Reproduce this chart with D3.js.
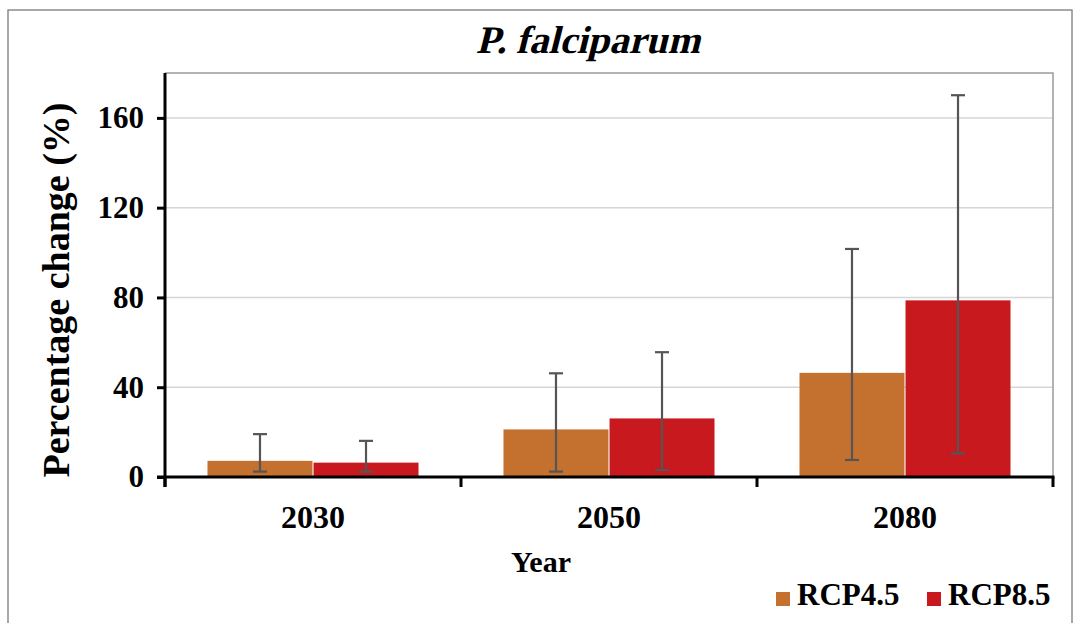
<!DOCTYPE html>
<html>
<head>
<meta charset="utf-8">
<script src="https://cdn.jsdelivr.net/npm/d3@7"></script>
<style>
  html, body { margin: 0; padding: 0; background: #fff; }
  svg { display: block; font-family: "Liberation Serif", "Times New Roman", serif; }
</style>
</head>
<body>
<svg id="chart" width="1074" height="623"></svg>
<script>
// Percentage change in P. falciparum by year and scenario
const years = ["2030", "2050", "2080"];
const scenarios = ["RCP4.5", "RCP8.5"];
const rcp45 = [7.2, 21.2, 46.4];
const rcp85 = [6.4, 26.1, 78.7];
const rcp45Low = [2.4, 2.4, 7.6];
const rcp45High = [19.1, 46.2, 101.6];
const rcp85Low = [2.4, 3.1, 10.5];
const rcp85High = [16.1, 55.6, 170.1];
const yTicks = [0, 40, 80, 120, 160];
const colors = ["#C4702F", "#C8191E"];

const rows = years.map((y, i) => ({
  year: y,
  bars: [
    { key: scenarios[0], value: rcp45[i], low: rcp45Low[i], high: rcp45High[i] },
    { key: scenarios[1], value: rcp85[i], low: rcp85Low[i], high: rcp85High[i] }
  ]
}));

const svg = d3.select("#chart");
const plot = { left: 165, right: 1053, top: 73, bottom: 477 };

// outer frame
svg.append("rect")
  .attr("x", 8).attr("y", 10).attr("width", 1064).attr("height", 640)
  .attr("fill", "#fff").attr("stroke", "#8c8c8c").attr("stroke-width", 1.5);

const x0 = d3.scaleBand().domain(years).range([plot.left, plot.right])
  .paddingInner(0.28).paddingOuter(0.14);
const x1 = d3.scaleBand().domain(scenarios).range([0, x0.bandwidth()]).padding(0.01);
const y = d3.scaleLinear().domain([0, 180]).range([plot.bottom, plot.top]);
const color = d3.scaleOrdinal().domain(scenarios).range(colors);

// gridlines
svg.append("g").selectAll("line").data(yTicks.filter(d => d > 0)).join("line")
  .attr("x1", plot.left).attr("x2", plot.right)
  .attr("y1", d => y(d)).attr("y2", d => y(d))
  .attr("stroke", "#d6d6d6").attr("stroke-width", 1.5);

// plot area border (top and right)
svg.append("path")
  .attr("d", `M${plot.left},${plot.top}H${plot.right}V${plot.bottom}`)
  .attr("fill", "none").attr("stroke", "#9a9a9a").attr("stroke-width", 1.5);

// bars
const groups = svg.append("g").selectAll("g").data(rows).join("g")
  .attr("transform", d => `translate(${x0(d.year)},0)`);

groups.selectAll("rect").data(d => d.bars).join("rect")
  .attr("x", d => x1(d.key))
  .attr("width", x1.bandwidth())
  .attr("y", d => y(d.value))
  .attr("height", d => y(0) - y(d.value))
  .attr("fill", d => color(d.key));

// error bars
const capW = 14;
const cx = d => x1(d.key) + x1.bandwidth() / 2;
const err = groups.selectAll("g.err").data(d => d.bars).join("g").attr("class", "err")
  .attr("stroke", "#555").attr("stroke-width", 2.2);
err.append("line")
  .attr("x1", cx).attr("x2", cx)
  .attr("y1", d => y(d.low)).attr("y2", d => y(d.high));
err.append("line")
  .attr("x1", d => cx(d) - capW / 2).attr("x2", d => cx(d) + capW / 2)
  .attr("y1", d => y(d.high)).attr("y2", d => y(d.high));
err.append("line")
  .attr("x1", d => cx(d) - capW / 2).attr("x2", d => cx(d) + capW / 2)
  .attr("y1", d => y(d.low)).attr("y2", d => y(d.low));

// y axis
const yAxis = svg.append("g").attr("transform", `translate(${plot.left},0)`)
  .call(d3.axisLeft(y).tickValues(yTicks).tickSize(8).tickPadding(13).tickSizeOuter(0));
yAxis.select(".domain").attr("stroke", "#000").attr("stroke-width", 3)
  .attr("d", `M0,${plot.top}V${plot.bottom + 10}`);
yAxis.selectAll(".tick line").attr("stroke", "#000").attr("stroke-width", 3);
yAxis.selectAll(".tick text").attr("fill", "#000").attr("font-size", 31)
  .attr("font-weight", "bold").attr("font-family", "Liberation Serif, serif");

// x axis with ticks on category boundaries
const xAxis = svg.append("g");
xAxis.append("line").attr("x1", plot.left - 8).attr("x2", plot.right + 1.5)
  .attr("y1", y(0)).attr("y2", y(0)).attr("stroke", "#000").attr("stroke-width", 3);
const edges = [plot.left].concat(years.map(d => x0(d) + x0.bandwidth() + (x0.step() - x0.bandwidth()) / 2));
xAxis.selectAll("line.tk").data(edges).join("line").attr("class", "tk")
  .attr("x1", d => d).attr("x2", d => d)
  .attr("y1", y(0)).attr("y2", y(0) + 10)
  .attr("stroke", "#000").attr("stroke-width", 3);
xAxis.selectAll("text").data(years).join("text")
  .attr("x", d => x0(d) + x0.bandwidth() / 2).attr("y", 528)
  .attr("text-anchor", "middle").attr("font-size", 32).attr("font-weight", "bold")
  .text(d => d);

// chart title, bold serif slanted into italics
svg.append("text").attr("transform", "translate(588,53) skewX(-14)")
  .attr("text-anchor", "middle")
  .attr("font-family", "'Liberation Serif', serif")
  .attr("font-size", 39).attr("font-weight", "bold")
  .text("P. falciparum");
svg.append("text").attr("x", 541).attr("y", 572).attr("text-anchor", "middle")
  .attr("font-size", 30).attr("font-weight", "bold").text("Year");
svg.append("text").attr("transform", "translate(69,290) rotate(-90)")
  .attr("text-anchor", "middle").attr("font-size", 38).attr("font-weight", "bold")
  .text("Percentage change (%)");

// legend
const legendX = [776, 927];
const legend = svg.append("g").selectAll("g").data(scenarios).join("g")
  .attr("transform", (d, i) => `translate(${legendX[i]},592)`);
legend.append("rect").attr("width", 14).attr("height", 14).attr("fill", d => color(d));
legend.append("text").attr("x", 21).attr("y", 13).attr("font-size", 31)
  .attr("font-weight", "bold").text(d => d);
</script>
</body>
</html>
